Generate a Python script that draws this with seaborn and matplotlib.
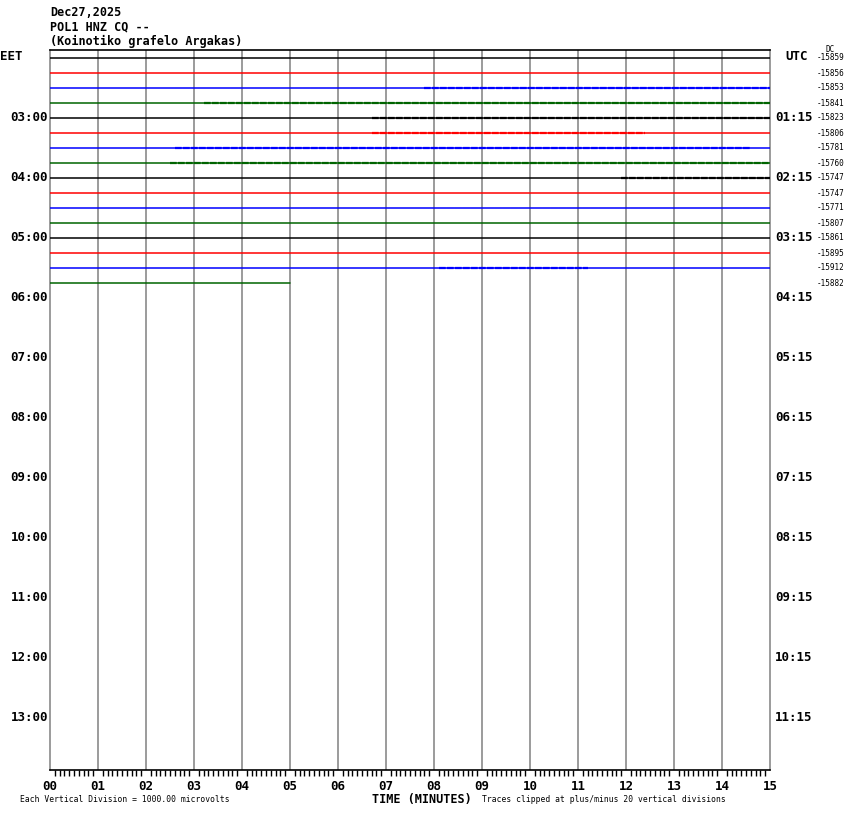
import pandas as pd
import numpy as np
import matplotlib
matplotlib.use("Agg")
import matplotlib.pyplot as plt
import seaborn as sns

# Helicorder POL1 HNZ - traces de 15 minutos
eet_labels = ["03:00", "04:00", "05:00", "06:00", "07:00", "08:00",
              "09:00", "10:00", "11:00", "12:00", "13:00"]
utc_labels = ["01:15", "02:15", "03:15", "04:15", "05:15", "06:15",
              "07:15", "08:15", "09:15", "10:15", "11:15"]
dc_values = [-15859, -15856, -15853, -15841, -15823, -15806, -15781, -15760,
             -15747, -15747, -15771, -15807, -15861, -15895, -15912, -15882]
trace_end = [15.0] * 15 + [5.0]
trace_colors = ["black", "red", "blue", "#006400"]
# trechos com mais ruido (linha mais grossa): linha, inicio, fim (minutos)
busy_rows = [2, 3, 4, 5, 6, 7, 8, 14]
busy_start = [7.8, 3.2, 6.7, 6.7, 2.6, 2.5, 11.9, 8.1]
busy_end = [15.0, 15.0, 15.0, 12.4, 14.6, 15.0, 15.0, 11.2]
minute_labels = ["%02d" % m for m in range(16)]

n_rows = 48
W, H = 850, 814

sns.set_style("white")
plt.rcParams['font.family'] = ['DejaVu Sans Mono', 'DejaVu Sans']
plt.rcParams['text.color'] = 'black'
plt.rcParams['xtick.color'] = 'black'
plt.rcParams['xtick.labelcolor'] = 'black'

fig = plt.figure(figsize=(W / 100, H / 100), dpi=100)
x0, x1, y0, y1 = 50, 770, 50, 770
ax = fig.add_axes([x0 / W, 1 - y1 / H, (x1 - x0) / W, (y1 - y0) / H])

# dados em formato longo para o seaborn
rows = []
for i, end in enumerate(trace_end):
    rows.append({"trace": i, "minute": 0.0, "row": i})
    rows.append({"trace": i, "minute": end, "row": i})
df = pd.DataFrame(rows)
pal = [trace_colors[i % 4] for i in range(len(trace_end))]

for m in range(1, 15):
    ax.axvline(m, color="#808080", lw=1.1, zorder=1)

sns.lineplot(data=df, x="minute", y="row", hue="trace", palette=pal,
             estimator=None, sort=False, legend=False, lw=1.1, ax=ax, zorder=3)

for r, s, e in zip(busy_rows, busy_start, busy_end):
    ax.plot([s, e], [r + 0.05, r + 0.05], color=trace_colors[r % 4], lw=1.6,
            ls=(0, (3, 0.6)), zorder=3)

ax.set_xlim(0, 15)
ax.set_ylim(n_rows - 0.5, -0.5)
ax.set_xlabel("")
ax.set_ylabel("")
ax.set_yticks([])
ax.set_xticks(range(16))
ax.set_xticklabels(minute_labels, fontsize=9, fontweight="bold")
ax.set_xticks(np.arange(0, 15.01, 0.1), minor=True)
ax.tick_params(axis="x", which="major", length=5, width=1, color="black", pad=2)
ax.tick_params(axis="x", which="minor", length=4.5, width=1, color="black", bottom=True)
for side in ["left", "right"]:
    ax.spines[side].set_color("#808080")
    ax.spines[side].set_linewidth(1.1)
for side in ["top", "bottom"]:
    ax.spines[side].set_color("black")
    ax.spines[side].set_linewidth(1.2)


def px(x, y):
    return x / W, 1 - y / H


# rotulos de hora e DC
for k, (el, ul) in enumerate(zip(eet_labels, utc_labels)):
    yy = 57.5 + 15 * (4 * (k + 1))
    fig.text(*px(48, yy), el, ha="right", va="center", fontsize=9, fontweight="bold")
    fig.text(*px(775, yy), ul, ha="left", va="center", fontsize=9, fontweight="bold")
for i, dc in enumerate(dc_values):
    fig.text(*px(817, 58 + 15 * i), str(dc), ha="left", va="center", fontsize=5.5)

fig.text(*px(0, 57), "EET", ha="left", va="center", fontsize=9, fontweight="bold")
fig.text(*px(785, 57), "UTC", ha="left", va="center", fontsize=9, fontweight="bold")
fig.text(*px(826, 50), "DC", ha="left", va="center", fontsize=5.5)

fig.text(*px(50, 12), "Dec27,2025", ha="left", va="center", fontsize=8.5, fontweight="bold")
fig.text(*px(50, 27), "POL1 HNZ CQ --", ha="left", va="center", fontsize=8.5, fontweight="bold")
fig.text(*px(50, 41), "(Koinotiko grafelo Argakas)", ha="left", va="center",
         fontsize=8.5, fontweight="bold")

fig.text(*px(422, 800), "TIME (MINUTES)", ha="center", va="center", fontsize=8.5, fontweight="bold")
fig.text(*px(20, 800), "Each Vertical Division = 1000.00 microvolts", ha="left",
         va="center", fontsize=5.8)
fig.text(*px(482, 800), "Traces clipped at plus/minus 20 vertical divisions", ha="left",
         va="center", fontsize=5.8)

fig.savefig("out.png", dpi=100)
